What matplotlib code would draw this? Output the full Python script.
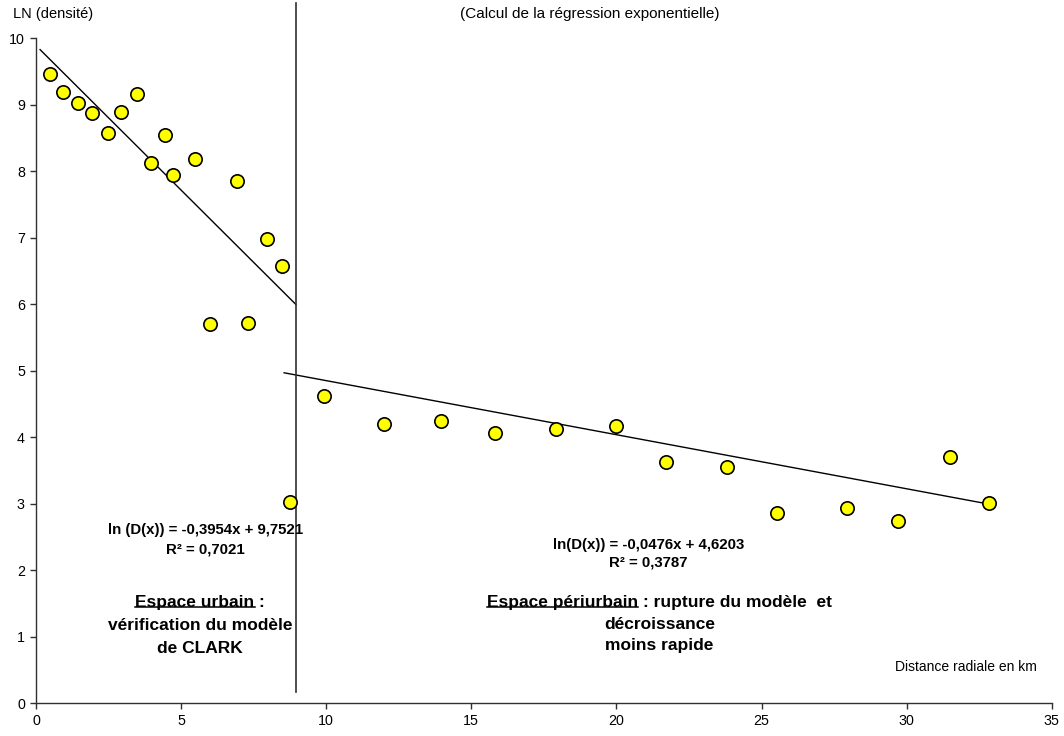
import matplotlib
matplotlib.use("Agg")
import matplotlib.pyplot as plt
from matplotlib.lines import Line2D

# ---- data ----
urban_x = [0.48, 0.94, 1.44, 1.94, 2.47, 2.93, 3.47, 3.97, 4.44, 4.72, 5.48, 5.98, 6.91, 7.32, 7.96, 8.47, 8.76]
urban_y = [9.46, 9.19, 9.02, 8.87, 8.57, 8.89, 9.16, 8.12, 8.54, 7.95, 8.18, 5.71, 7.85, 5.72, 6.98, 6.58, 3.02]
peri_x = [9.91, 11.98, 13.97, 15.80, 17.92, 19.97, 21.71, 23.82, 25.54, 27.93, 29.71, 31.49, 32.84]
peri_y = [4.62, 4.20, 4.25, 4.06, 4.12, 4.17, 3.63, 3.56, 2.86, 2.94, 2.74, 3.70, 3.01]

# trend segments as drawn in the reference
trend_urban_x = [0.14, 8.95]
trend_urban_y = [9.83, 6.00]
trend_peri_x = [8.55, 32.78]
trend_peri_y = [4.97, 3.00]

# separator between urban and periurban space
sep_x = 8.97
sep_y = [0.17, 10.53]

x_ticks = [0, 5, 10, 15, 20, 25, 30, 35]
y_ticks = [0, 1, 2, 3, 4, 5, 6, 7, 8, 9, 10]

eq_urban = ["ln (D(x)) = -0,3954x + 9,7521", "R² = 0,7021"]
eq_peri = ["ln(D(x)) = -0,0476x + 4,6203", "R² = 0,3787"]

FONT = ["Liberation Sans", "DejaVu Sans"]
plt.rcParams["font.family"] = FONT

fig = plt.figure(figsize=(10.64, 7.36), dpi=100)
ax = fig.add_axes([36 / 1064, 1 - 703.3 / 736, (1051.7 - 36) / 1064, (703.3 - 38.3) / 736])

ax.set_xlim(0, 35)
ax.set_ylim(0, 10)
for s in ["top", "right"]:
    ax.spines[s].set_visible(False)
for s in ["left", "bottom"]:
    ax.spines[s].set_color("#303030")
    ax.spines[s].set_linewidth(1.0)
ax.set_xticks(x_ticks)
ax.set_yticks(y_ticks)
ax.tick_params(direction="out", length=4, width=1, color="#303030", labelsize=10.3, pad=4)

# trend lines
ax.plot(trend_urban_x, trend_urban_y, color="black", lw=1.0, zorder=2)
ax.plot(trend_peri_x, trend_peri_y, color="black", lw=1.0, zorder=2)
# separator
ax.plot([sep_x, sep_x], sep_y, color="#303030", lw=1.2, clip_on=False, zorder=2)

# points
ax.scatter(urban_x + peri_x, urban_y + peri_y, s=92, facecolor="#FFFF00",
           edgecolor="black", linewidth=1.2, zorder=3, clip_on=False)

# equations
ax.text(5.83, 2.61, eq_urban[0], ha="center", va="center", fontsize=10.8, fontweight="bold")
ax.text(5.83, 2.31, eq_urban[1], ha="center", va="center", fontsize=10.8, fontweight="bold")
ax.text(21.1, 2.38, eq_peri[0], ha="center", va="center", fontsize=10.8, fontweight="bold")
ax.text(21.1, 2.11, eq_peri[1], ha="center", va="center", fontsize=10.8, fontweight="bold")

# block texts
big = dict(ha="center", va="center", fontsize=12.5, fontweight="bold")
t_u = ax.text(5.66, 1.52, "Espace urbain :", **big)
ax.text(5.66, 1.17, "vérification du modèle", **big)
ax.text(5.66, 0.83, "de CLARK", **big)
t_p = ax.text(21.48, 1.52, "Espace périurbain : rupture du modèle  et", **big)
ax.text(21.48, 1.19, "décroissance", **big)
ax.text(21.48, 0.87, "moins rapide", **big)

ax.text(32.03, 0.55, "Distance radiale en km", ha="center", va="center", fontsize=10)

fig.text(13 / 1064, 1 - 14 / 736, "LN (densité)", ha="left", va="center", fontsize=10.5)
fig.text(590 / 1064, 1 - 14 / 736, "(Calcul de la régression exponentielle)",
         ha="center", va="center", fontsize=11)

# underline the first words
fig.canvas.draw()
renderer = fig.canvas.get_renderer()
inv = fig.transFigure.inverted()
for t, part in [(t_u, "Espace urbain"), (t_p, "Espace périurbain")]:
    bb = t.get_window_extent(renderer)
    tmp = ax.text(0, 0, part, fontsize=12.5, fontweight="bold")
    w = tmp.get_window_extent(renderer).width
    tmp.remove()
    y = bb.y0 + 3.0
    (x0, yy), (x1, _) = inv.transform([(bb.x0, y), (bb.x0 + w, y)])
    fig.add_artist(Line2D([x0, x1], [yy, yy], transform=fig.transFigure, color="black", lw=1.1))

fig.savefig("out.png", dpi=100)
